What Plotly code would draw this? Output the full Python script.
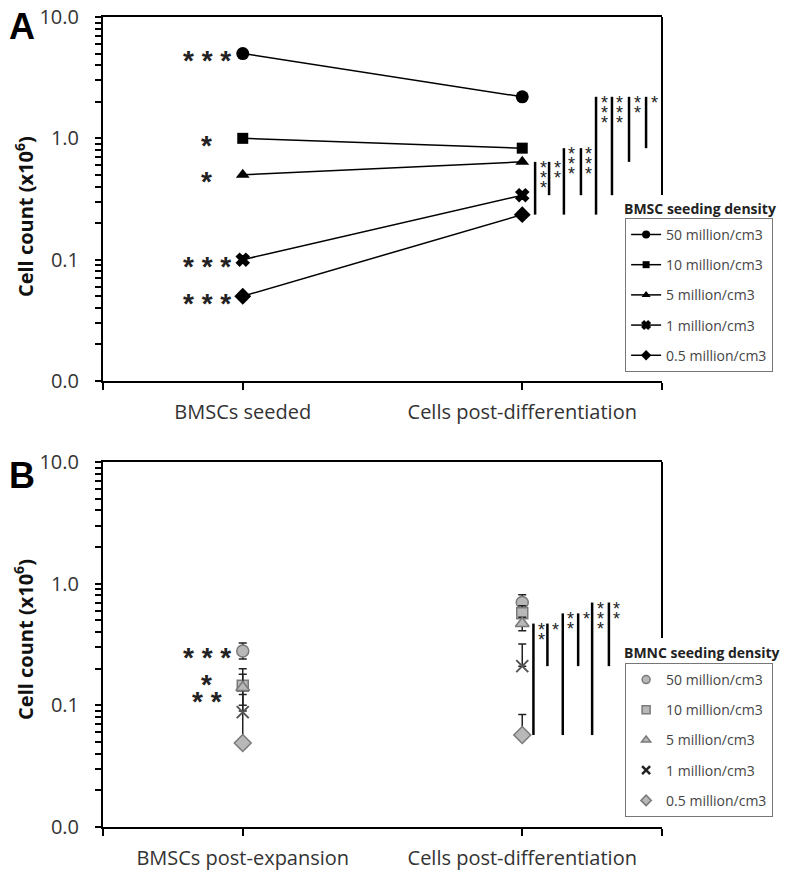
import math
import plotly.graph_objects as go

# ---------------- data ----------------
series_names = ["50 million/cm3", "10 million/cm3", "5 million/cm3", "1 million/cm3", "0.5 million/cm3"]

# Panel A (BMSC seeding density)
cats_a = ["BMSCs seeded", "Cells post-differentiation"]
a_seeded = [5.0, 1.0, 0.5, 0.1, 0.05]
a_postdiff = [2.2, 0.83, 0.64, 0.34, 0.235]
a_left_stars = ["***", "*", "*", "***", "***"]
# significance brackets: (low series idx, high series idx, stars) on post-differentiation values
a_brackets = [(4, 2, "***"), (3, 2, "**"), (4, 1, "***"), (3, 1, "***"),
              (4, 0, "***"), (3, 0, "***"), (2, 0, "**"), (1, 0, "*")]

# Panel B (BMNC seeding density)
cats_b = ["BMSCs post-expansion", "Cells post-differentiation"]
b_postexp = [0.28, 0.145, 0.14, 0.088, 0.049]
b_postexp_err_plus = [0.045, 0.055, 0.04, 0.035, 0.004]
b_postexp_err_minus = [0.04, 0.055, 0.04, 0.035, 0.004]
b_postdiff = [0.70, 0.57, 0.47, 0.21, 0.057]
b_postdiff_err_plus = [0.11, 0.09, 0.06, 0.11, 0.027]
b_postdiff_err_minus = [0.11, 0.09, 0.06, 0.0, 0.0]
b_left_stars = ["***", "*", "**", "", ""]
b_brackets = [(4, 2, "**"), (3, 2, "*"), (4, 1, "**"), (3, 1, "*"), (4, 0, "***"), (3, 0, "**")]

y_major_vals = [0.01, 0.1, 1, 10]
y_major_text = ["0.0", "0.1", "1.0", "10.0"]

# ---------------- layout constants ----------------
a_bracket_x = [2.046, 2.096, 2.149, 2.21, 2.264, 2.321, 2.382, 2.443]
b_bracket_x = [2.04, 2.09, 2.145, 2.2, 2.25, 2.31]
symbols_a = ["circle", "square", "triangle-up", "x", "diamond"]
sizes_a = [13, 11, 12, 11, 13]
leg_sizes_a = [8, 7, 8, 7, 8]
symbols_b = ["circle", "square", "triangle-up", "x-thin", "diamond"]
sizes_b = [12, 11, 12, 12, 13]
leg_sizes_b = [8, 8, 8, 8, 8]
FONT = "Open Sans"
STARFONT = "Liberation Sans"

# log-axis tick positions: decades labelled, intermediate digits unlabelled
tickvals, ticktext = [], []
for v, t in zip(y_major_vals, y_major_text):
    tickvals.append(v)
    ticktext.append(t)
    if v < 10:
        for k in range(2, 10):
            tickvals.append(k * v)
            ticktext.append("")

fig = go.Figure()

# Panel A lines
for i, nm in enumerate(series_names):
    mk = dict(symbol=symbols_a[i], size=sizes_a[i], color="black",
              line=dict(color="black", width=1.5 if symbols_a[i] == "x" else 0))
    fig.add_trace(go.Scatter(
        x=[1, 2], y=[a_seeded[i], a_postdiff[i]], mode="lines+markers", name=nm,
        line=dict(color="black", width=1.5), marker=mk, showlegend=False,
        xaxis="x", yaxis="y"))
    fig.add_trace(go.Scatter(
        x=[None], y=[None], mode="lines+markers", name=nm,
        line=dict(color="black", width=1.5), marker=dict(mk, size=leg_sizes_a[i]),
        xaxis="x", yaxis="y", legend="legend", legendgroup="a%d" % i))

# Panel A brackets
bx, by = [], []
for (lo, hi, st), xb in zip(a_brackets, a_bracket_x):
    bx += [xb, xb, None]
    by += [a_postdiff[lo], a_postdiff[hi], None]
fig.add_trace(go.Scatter(x=bx, y=by, mode="lines", line=dict(color="black", width=2.5),
                         showlegend=False, hoverinfo="skip", xaxis="x", yaxis="y"))

# Panel B markers
for i, nm in enumerate(series_names):
    is_x = symbols_b[i] == "x-thin"
    mk = dict(symbol=symbols_b[i], size=sizes_b[i], color="#b8b8b8",
              line=dict(color="#555555" if is_x else "#7a7a7a", width=2 if is_x else 1.5))
    fig.add_trace(go.Scatter(
        x=[1, 2], y=[b_postexp[i], b_postdiff[i]], mode="markers", name=nm, marker=mk,
        error_y=dict(type="data", symmetric=False,
                     array=[b_postexp_err_plus[i], b_postdiff_err_plus[i]],
                     arrayminus=[b_postexp_err_minus[i], b_postdiff_err_minus[i]],
                     color="#222222", thickness=1.5, width=4),
        showlegend=False, xaxis="x2", yaxis="y2"))
    leg_mk = dict(mk, size=leg_sizes_b[i])
    if is_x:
        leg_mk["line"] = dict(color="#222", width=2.5)
    fig.add_trace(go.Scatter(
        x=[None], y=[None], mode="markers", name=nm, marker=leg_mk,
        xaxis="x2", yaxis="y2", legend="legend2", legendgroup="b%d" % i))

bx, by = [], []
for (lo, hi, st), xb in zip(b_brackets, b_bracket_x):
    bx += [xb, xb, None]
    by += [b_postdiff[lo], b_postdiff[hi], None]
fig.add_trace(go.Scatter(x=bx, y=by, mode="lines", line=dict(color="black", width=2.5),
                         showlegend=False, hoverinfo="skip", xaxis="x2", yaxis="y2"))

L = math.log10
annotations = []
# left stars
for i in range(5):
    if a_left_stars[i]:
        annotations.append(dict(x=1, y=L(a_seeded[i]), xref="x", yref="y",
                                xanchor="center", yanchor="middle",
                                text="<b>" + " ".join(a_left_stars[i]) + "</b>", showarrow=False,
                                xshift=-36, yshift=-7,
                                font=dict(family=STARFONT, size=28, color="#222")))
b_left_shift = [-7, 1, -14, 0, 0]
for i in range(5):
    if b_left_stars[i]:
        annotations.append(dict(x=1, y=L(b_postexp[i]), xref="x2", yref="y2",
                                xanchor="center", yanchor="middle",
                                text="<b>" + " ".join(b_left_stars[i]) + "</b>", showarrow=False,
                                xshift=-36, yshift=b_left_shift[i],
                                font=dict(family=STARFONT, size=28, color="#222")))
# bracket stars
for brs, vals, xs, xr, yr in [(a_brackets, a_postdiff, a_bracket_x, "x", "y"),
                              (b_brackets, b_postdiff, b_bracket_x, "x2", "y2")]:
    for (lo, hi, st), xb in zip(brs, xs):
        for k in range(len(st)):
            annotations.append(dict(x=xb, y=L(vals[hi]), xref=xr, yref=yr, text="*", showarrow=False,
                                    xanchor="center", yanchor="middle", xshift=8, yshift=-6 - 10 * k,
                                    font=dict(family=STARFONT, size=18, color="#222")))

# axis titles, panel letters, legend titles
for yc in [0.753, 0.231]:
    annotations.append(dict(x=-0.1413, y=yc, xref="paper", yref="paper", textangle=-90,
                            xanchor="center", yanchor="middle",
                            text="<b>Cell count (x10<sup>6</sup>)</b>", showarrow=False,
                            font=dict(family=FONT, size=20, color="#111")))
annotations.append(dict(x=-0.145, y=0.988, xref="paper", yref="paper", text="<b>A</b>",
                        xanchor="center", yanchor="middle",
                        showarrow=False, font=dict(family="Liberation Sans", size=36, color="black")))
annotations.append(dict(x=-0.145, y=0.434, xref="paper", yref="paper", text="<b>B</b>",
                        xanchor="center", yanchor="middle",
                        showarrow=False, font=dict(family="Liberation Sans", size=36, color="black")))
annotations.append(dict(x=1.068, y=0.764, xref="paper", yref="paper", text="<b>BMSC seeding density</b>",
                        xanchor="center", yanchor="middle",
                        showarrow=False, font=dict(family=FONT, size=14, color="#222")))
annotations.append(dict(x=1.072, y=0.216, xref="paper", yref="paper", text="<b>BMNC seeding density</b>",
                        xanchor="center", yanchor="middle",
                        showarrow=False, font=dict(family=FONT, size=14, color="#222")))


def xax(cats, anchor):
    return dict(range=[0.5, 2.5], tickmode="array", tickvals=[0.5, 1, 2, 2.5],
                ticktext=["", cats[0], cats[1], ""], ticks="outside", ticklen=7, tickwidth=2,
                tickcolor="black", showline=True, linewidth=2, linecolor="black", mirror=True,
                showgrid=False, zeroline=False, anchor=anchor, ticklabelstandoff=5,
                tickfont=dict(family=FONT, size=20, color="#333"))


def yax(domain, anchor):
    return dict(type="log", range=[-2, 1], domain=domain, tickmode="array", tickvals=tickvals,
                ticktext=ticktext, ticks="outside", ticklen=6, tickwidth=1.5, tickcolor="black",
                showline=True, linewidth=2, linecolor="black", showgrid=False, zeroline=False,
                anchor=anchor, ticklabelstandoff=12, tickfont=dict(family=FONT, size=20, color="#333"))


shapes = [
    dict(type="line", xref="x domain", yref="y domain", x0=1, x1=1, y0=1, y1=0.511,
         line=dict(color="black", width=2)),
    dict(type="line", xref="x2 domain", yref="y2 domain", x0=1, x1=1, y0=1, y1=0.518,
         line=dict(color="black", width=2)),
]

leg = dict(xanchor="left", yanchor="top", bordercolor="#777", borderwidth=1, bgcolor="white",
           font=dict(family=FONT, size=14, color="#444"), tracegroupgap=9, itemwidth=30)

fig.update_layout(
    width=800, height=875, margin=dict(l=103, r=138, t=17, b=48, autoexpand=False),
    paper_bgcolor="white", plot_bgcolor="white",
    xaxis=xax(cats_a, "y"), yaxis=yax([0.5506, 1], "x"),
    xaxis2=xax(cats_b, "y2"), yaxis2=yax([0, 0.4506], "x2"),
    legend=dict(leg, x=0.934, y=0.752),
    legend2=dict(leg, x=0.934, y=0.2025),
    annotations=annotations, shapes=shapes, showlegend=True,
)

fig.write_html("out.html", config={"displayModeBar": False},
               post_script="document.body.style.margin='0';")
